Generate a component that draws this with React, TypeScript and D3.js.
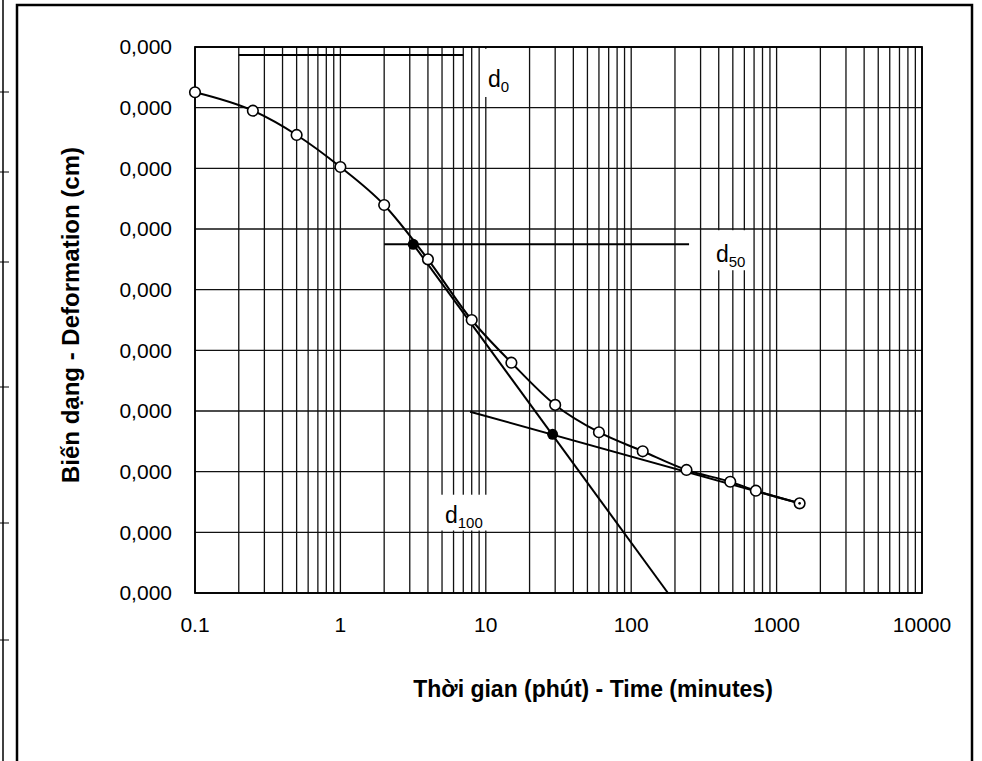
import React from 'react'
import * as d3 from 'd3'

// consolidation test: time (min) vs deformation (cm)
const times = [0.1, 0.25, 0.5, 1, 2, 4, 8, 15, 30, 60, 120, 240, 480, 720, 1440]
const deformation = [
  0.0000373, 0.0000525, 0.0000725, 0.0000989, 0.0001302, 0.000175, 0.000225, 0.0002602,
  0.000295, 0.0003175, 0.0003332, 0.0003486, 0.0003583, 0.0003657, 0.0003761,
]

// construction points (filled) : d50, d100
const keyTimes = [3.17, 28.8]
const keyValues = [0.0001626, 0.0003192]

// construction lines [t1, v1, t2, v2]
const d0Line = [0.2, 0.0000066, 7.0, 0.0000066]
const d50Line = [2, 0.0001626, 250, 0.0001626]
const steepTangent = [3.17, 0.0001626, 179, 0.00045]
const flatTangent = [7.8, 0.0003006, 1440, 0.0003761]

// labels: name, subscript, time, value (baseline)
const labelNames = ['d', 'd', 'd']
const labelSubs = ['0', '50', '100']
const labelTimes = [10.35, 383, 5.24]
const labelValues = [0.000033, 0.000177, 0.000392]
// white boxes behind labels [t1, t2, v1, v2]
const labelBoxes = [
  [9.4, 19, 0.0000015, 0.0000412],
  [330, 650, 0.000151, 0.000184],
  [4.3, 15, 0.000369, 0.0003985],
]

const yTicks = d3.range(0, 10).map(i => i * 0.00005)
const xTickLabels = [0.1, 1, 10, 100, 1000, 10000]

const W = 982
const H = 761
const margin = {top: 47, right: 60, bottom: 168, left: 195}
const font = '"Liberation Sans", Arial, sans-serif'

export default function App() {
  const x = d3.scaleLog().domain([0.1, 10000]).range([margin.left, W - margin.right])
  const y = d3.scaleLinear().domain([0, 0.00045]).range([margin.top, H - margin.bottom])
  const fmt = (v: number) => d3.format('.3f')(v).replace('.', ',')

  const minor: number[] = []
  for (let e = -1; e < 4; e++) for (let m = 1; m < 10; m++) minor.push(m * Math.pow(10, e))
  minor.push(10000)

  const pts: [number, number][] = times.map((t, i) => [x(t), y(deformation[i])])
  const curve = d3.line().curve(d3.curveMonotoneX)(pts) || ''

  const seg = (l: number[], key: string) => (
    <line key={key} x1={x(l[0])} y1={y(l[1])} x2={x(l[2])} y2={y(l[3])} stroke="#000" strokeWidth={2} />
  )

  const [x0, x1] = x.range()
  const [y0, y1] = y.range()

  return (
    <svg width={W} height={H} style={{position: 'absolute', left: 0, top: 0, background: '#fff'}}>
      {/* outer frame */}
      <rect x={17} y={5} width={955} height={H + 10} fill="none" stroke="#000" strokeWidth={2.5} />
      <line x1={3} y1={0} x2={3} y2={H} stroke="#000" strokeWidth={1.5} />
      {[92, 172, 262, 387, 523, 640].map(v => (
        <line key={v} x1={0} y1={v} x2={9} y2={v} stroke="#000" strokeWidth={1} />
      ))}

      {/* grid */}
      <g stroke="#111" strokeWidth={1.3}>
        {minor.map((t, i) => (
          <line key={'v' + i} x1={x(t)} x2={x(t)} y1={y0} y2={y1} />
        ))}
        {yTicks.map((v, i) => (
          <line key={'h' + i} x1={x0} x2={x1} y1={y(v)} y2={y(v)} />
        ))}
      </g>
      {labelBoxes.map((b, i) => (
        <rect key={'b' + i} x={x(b[0])} y={y(b[2])} width={x(b[1]) - x(b[0])} height={y(b[3]) - y(b[2])} fill="#fff" />
      ))}
      <rect x={x0} y={y0} width={x1 - x0} height={y1 - y0} fill="none" stroke="#000" strokeWidth={1.8} />

      {/* construction lines */}
      {seg(d0Line, 'd0')}
      {seg(d50Line, 'd50')}
      {seg(steepTangent, 'st')}
      {seg(flatTangent, 'ft')}

      {/* curve */}
      <path d={curve} fill="none" stroke="#000" strokeWidth={2} />
      {pts.map((p, i) => (
        <circle key={'p' + i} cx={p[0]} cy={p[1]} r={5.3} fill="#fff" stroke="#000" strokeWidth={1.6} />
      ))}
      {pts.length > 0 && (
        <circle cx={pts[pts.length - 1][0]} cy={pts[pts.length - 1][1]} r={1.3} fill="#000" />
      )}
      {keyTimes.map((t, i) => (
        <circle key={'k' + i} cx={x(t)} cy={y(keyValues[i])} r={5.5} fill="#000" />
      ))}

      {/* labels */}
      {labelNames.map((n, i) => (
        <text key={'l' + i} x={x(labelTimes[i])} y={y(labelValues[i])} fontFamily={font} fontSize={23} fill="#000">
          {n}
          <tspan fontSize={15} dy={5}>{labelSubs[i]}</tspan>
        </text>
      ))}

      {/* axes text */}
      <g fontFamily={font} fontSize={21} fill="#000">
        {yTicks.map((v, i) => (
          <text key={'yt' + i} x={x0 - 23} y={y(v)} dy="0.35em" textAnchor="end">{fmt(v)}</text>
        ))}
        {xTickLabels.map((t, i) => (
          <text key={'xt' + i} x={x(t)} y={632} textAnchor="middle">{String(t)}</text>
        ))}
      </g>
      <text x={593} y={697} textAnchor="middle" fontFamily={font} fontSize={23} fontWeight="bold">
        Thời gian (phút) - Time (minutes)
      </text>
      <text transform={`translate(79,${315}) rotate(-90)`} textAnchor="middle" fontFamily={font} fontSize={24} fontWeight="bold">
        Biến dạng - Deformation (cm)
      </text>
    </svg>
  )
}
